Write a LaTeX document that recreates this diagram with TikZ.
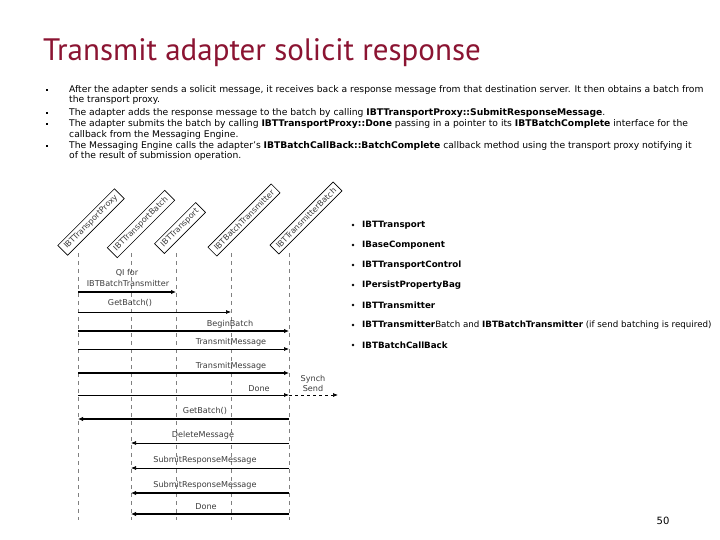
\documentclass[tikz,border=0pt]{standalone}
\usepackage{fontspec}
\setmainfont{DejaVu Sans}
\newfontfamily\titlefont{PT Sans}
\usetikzlibrary{arrows.meta}
\definecolor{titlered}{RGB}{139,20,50}
\definecolor{dgray}{RGB}{60,60,60}
\tikzset{
  body/.style={anchor=base west, inner sep=0pt, font=\fontsize{9.2}{10}\selectfont},
  bul/.style={fill=black, minimum size=2.6pt, inner sep=0pt},
  lifebox/.style={draw=black, line width=0.6pt, rotate=45, inner xsep=4pt, inner ysep=3.2pt, font=\fontsize{8}{9}\selectfont, text=dgray},
  lifeline/.style={draw=gray, line width=0.7pt, dash pattern=on 4pt off 4pt},
  lbl/.style={font=\fontsize{8.1}{9}\selectfont, text=dgray, inner sep=0pt},
  thinmsg/.style={draw=black, line width=0.7pt, -{Latex[length=5pt,width=4pt]}},
  thickmsg/.style={draw=black, line width=1.6pt, -{Latex[length=5pt,width=4.5pt]}},
  item/.style={anchor=west, inner sep=0pt, font=\fontsize{8.7}{9}\selectfont},
  rbul/.style={circle, fill=black, minimum size=2.8pt, inner sep=0pt}
}
\begin{document}
\begin{tikzpicture}[x=1pt,y=-1pt]
\useasboundingbox (0,0) rectangle (720,540);
\fill[white] (0,0) rectangle (720,540);
% title
\node[anchor=base west, inner sep=0pt, text=titlered, font=\titlefont\fontsize{31}{34}\selectfont] (title) at (43,61) {Transmit adapter solicit response};
% bullets
\foreach \y/\n in {90/b1,113/b2,124/b3,146/b4} \node[bul] (\n) at (47,\y) {};
\node[body] (t1) at (69,93) {After the adapter sends a solicit message, it receives back a response message from that destination server. It then obtains a batch from};
\node[body] (t1b) at (69,103) {the transport proxy.};
\node[body] (t2) at (69,116) {The adapter adds the response message to the batch by calling \textbf{IBTTransportProxy::SubmitResponseMessage}.};
\node[body] (t3) at (69,127) {The adapter submits the batch by calling \textbf{IBTTransportProxy::Done} passing in a pointer to its \textbf{IBTBatchComplete} interface for the};
\node[body] (t3b) at (69,138) {callback from the Messaging Engine.};
\node[body] (t4) at (69,149) {The Messaging Engine calls the adapter's \textbf{IBTBatchCallBack::BatchComplete} callback method using the transport proxy notifying it};
\node[body] (t4b) at (69,159) {of the result of submission operation.};
% lifeline boxes
\node[lifebox] (p1) at (91,222) {IBTTransportProxy};
\node[lifebox] (p2) at (141,224) {IBTTransportBatch};
\node[lifebox] (p3) at (180,228) {IBTTransport};
\node[lifebox] (p4) at (244,220) {IBTBatchTransmitter};
\node[lifebox] (p5) at (306,218) {IBTTransmitterBatch};
% lifelines
\foreach \x/\n in {78/1,131/2,176/3,231/4,289/5}{
  \coordinate (top\n) at (\x,253);
  \coordinate (bot\n) at (\x,520);
  \draw[lifeline] (top\n) -- (bot\n);
}
% messages
\node[lbl] (m1a) at (127,273) {QI for};
\node[lbl] (m1b) at (128,283) {IBTBatchTransmitter};
\draw[thickmsg] (top1|-0,292) -- (top3|-0,292);
\node[lbl] (m2) at (130,303) {GetBatch()};
\draw[thinmsg] (top1|-0,312) -- (top4|-0,312);
\node[lbl] (m3) at (230,324) {BeginBatch};
\draw[thickmsg] (top1|-0,331) -- (top5|-0,331);
\node[lbl] (m4) at (231,342) {TransmitMessage};
\draw[thinmsg] (top1|-0,349) -- (top5|-0,349);
\node[lbl] (m5) at (231,366) {TransmitMessage};
\draw[thickmsg] (top1|-0,373) -- (top5|-0,373);
\node[lbl] (m6) at (259,389) {Done};
\draw[thinmsg] (top1|-0,395) -- (top5|-0,395);
\node[lbl] (ss1) at (313,379) {Synch};
\node[lbl] (ss2) at (313,388) {Send};
\coordinate (ssend) at (338,395);
\draw[thinmsg, dashed] (top5|-0,395) -- (ssend);
\node[lbl] (m7) at (205,411) {GetBatch()};
\draw[thickmsg] (top5|-0,419) -- (top1|-0,419);
\node[lbl] (m8) at (203,435) {DeleteMessage};
\draw[thinmsg] (top5|-0,443) -- (top2|-0,443);
\node[lbl] (m9) at (205,460) {SubmitResponseMessage};
\draw[thinmsg] (top5|-0,468) -- (top2|-0,468);
\node[lbl] (m10) at (205,485) {SubmitResponseMessage};
\draw[thickmsg] (top5|-0,493) -- (top2|-0,493);
\node[lbl] (m11) at (206,507) {Done};
\draw[thickmsg] (top5|-0,514) -- (top2|-0,514);
% right list
\foreach \y/\n/\t in {225/r1/\textbf{IBTTransport},245/r2/\textbf{IBaseComponent},265/r3/\textbf{IBTTransportControl},285/r4/\textbf{IPersistPropertyBag},305/r5/\textbf{IBTTransmitter},345/r7/\textbf{IBTBatchCallBack}}{
  \node[rbul] (\n b) at (353,\y) {};
  \node[item] (\n) at (362,\y) {\t};
}
\node[rbul] (r6b) at (353,325) {};
\node[item] (r6) at (362,325) {\textbf{IBTTransmitter}Batch and \textbf{IBTBatchTransmitter} (if send batching is required)};
% page number
\node[inner sep=0pt, font=\fontsize{10}{12}\selectfont] (pg) at (663,521) {50};
\end{tikzpicture}
\end{document}
